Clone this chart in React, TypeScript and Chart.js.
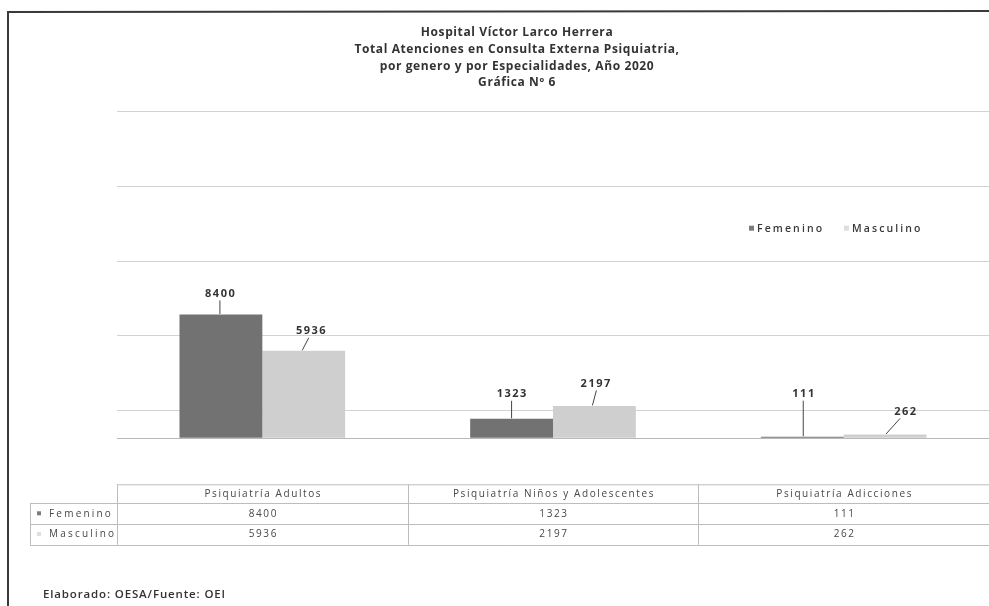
import React, { useEffect, useRef } from "react";
import { Chart, registerables } from "chart.js";

Chart.register(...registerables);

// ---------- data ----------
const categories = [
  "Psiquiatría Adultos",
  "Psiquiatría Niños y Adolescentes",
  "Psiquiatría Adicciones",
];
const seriesNames = ["Femenino", "Masculino"];
const femenino = [8400, 1323, 111];
const masculino = [5936, 2197, 262];
const gridValues = [0, 1900, 6980, 12000, 17100, 22150];
const axisMax = 22150;
const titleLines = [
  "Hospital Víctor Larco Herrera",
  "Total Atenciones en Consulta Externa Psiquiatria,",
  "por genero y por Especialidades, Año 2020",
  "Gráfica Nº 6",
];
const footerText = "Elaborado: OESA/Fuente: OEI";

// ---------- styles ----------
const BAR_COLORS = ["#727272", "#cfcfcf"];
const KEY_COLORS = ["#7c7c7c", "#dedede"];
const TEXT = "#333333";
const FONT = "'Open Sans', 'Noto Sans', sans-serif";
// label offset relative to bar top-centre: [dx, dy, leaderStartDx, leaderEndDx]
const LABEL_LAYOUT = [
  [[-1, -21, 0, -1], [0, -25, 0, 0], [1, -43, 0, 1]],
  [[7, -20, -2, -1.5], [1, -22.5, 1, -2], [20, -23, -5, 1]],
];

const W = 989;
const H = 606;

function setFont(ctx: CanvasRenderingContext2D, font: string, spacing: number) {
  ctx.font = font;
  try {
    (ctx as any).letterSpacing = spacing + "px";
  } catch (e) {}
}

const decorPlugin = {
  id: "decor",
  beforeDraw(chart: any) {
    const ctx = chart.ctx;
    ctx.save();
    ctx.fillStyle = "#ffffff";
    ctx.fillRect(0, 0, chart.width, chart.height);
    ctx.restore();
  },
  afterDatasetsDraw(chart: any) {
    const ctx = chart.ctx as CanvasRenderingContext2D;
    ctx.save();
    chart.data.datasets.forEach((ds: any, di: number) => {
      const meta = chart.getDatasetMeta(di);
      meta.data.forEach((el: any, i: number) => {
        const [dx, dy, sx, ex] = LABEL_LAYOUT[di][i];
        const lx = el.x + dx;
        const ly = el.y + dy;
        ctx.strokeStyle = "#444";
        ctx.lineWidth = 1;
        ctx.beginPath();
        ctx.moveTo(lx + sx, ly + 7);
        ctx.lineTo(el.x + ex, el.y - 0.5);
        ctx.stroke();
        setFont(ctx, `bold 11px ${FONT}`, 1.5);
        ctx.fillStyle = TEXT;
        ctx.textAlign = "center";
        ctx.textBaseline = "middle";
        ctx.fillText(String(ds.data[i]), lx + 0.75, ly);
      });
    });
    ctx.restore();
  },
  afterDraw(chart: any) {
    const ctx = chart.ctx as CanvasRenderingContext2D;
    const area = chart.chartArea;
    const x = chart.scales.x;
    ctx.save();

    // frame
    ctx.strokeStyle = "#3a3a3a";
    ctx.lineWidth = 2;
    ctx.beginPath();
    ctx.moveTo(8, H);
    ctx.lineTo(8, 12);
    ctx.lineTo(W, 11);
    ctx.stroke();

    // title
    ctx.fillStyle = TEXT;
    ctx.textAlign = "center";
    ctx.textBaseline = "middle";
    setFont(ctx, `bold 12px ${FONT}`, 0.6);
    titleLines.forEach((t, i) => ctx.fillText(t, 517, 33 + i * 16.6));

    // legend
    const ly = area.top + 117;
    let lx = area.right - 240;
    seriesNames.forEach((n, i) => {
      ctx.fillStyle = KEY_COLORS[i];
      ctx.fillRect(lx, ly - 3, 5, 5);
      setFont(ctx, `600 10.5px ${FONT}`, 2.1);
      ctx.fillStyle = "#3a3a3a";
      ctx.textAlign = "left";
      ctx.fillText(n, lx + 8, ly);
      lx += 95;
    });

    // data table
    const n = categories.length;
    const colW = (x.right - x.left) / n;
    const top = area.bottom + 46;
    const rowH = [19, 21, 20.5];
    const y1 = top + rowH[0];
    const y2 = y1 + rowH[1];
    const y3 = y2 + rowH[2];
    const keyLeft = 30;
    ctx.strokeStyle = "#bdbdbd";
    ctx.lineWidth = 1;
    ctx.beginPath();
    ctx.moveTo(x.left, top + 0.5);
    ctx.lineTo(x.right, top + 0.5);
    [y1, y2, y3].forEach((yy) => {
      ctx.moveTo(keyLeft, Math.round(yy) + 0.5);
      ctx.lineTo(x.right, Math.round(yy) + 0.5);
    });
    ctx.moveTo(keyLeft + 0.5, y1);
    ctx.lineTo(keyLeft + 0.5, y3);
    for (let c = 0; c < n; c++) {
      const cx = Math.round(x.left + c * colW) + 0.5;
      ctx.moveTo(cx, top);
      ctx.lineTo(cx, y3);
    }
    ctx.stroke();

    ctx.fillStyle = "#474747";
    ctx.textBaseline = "middle";
    ctx.textAlign = "center";
    categories.forEach((c, i) => {
      const cx = x.getPixelForValue(i);
      setFont(ctx, `10px ${FONT}`, 1.6);
      ctx.fillText(c, cx + 1, top + rowH[0] / 2);
      setFont(ctx, `10px ${FONT}`, 1.6);
      ctx.fillText(String(femenino[i]), cx + 1, y1 + rowH[1] / 2);
      ctx.fillText(String(masculino[i]), cx + 1, y2 + rowH[2] / 2);
    });
    const rowYs = [y1 + rowH[1] / 2, y2 + rowH[2] / 2];
    seriesNames.forEach((s, i) => {
      ctx.fillStyle = KEY_COLORS[i];
      ctx.fillRect(keyLeft + 7, rowYs[i] - 2.5, 4, 4);
      ctx.fillStyle = "#474747";
      ctx.textAlign = "left";
      setFont(ctx, `10px ${FONT}`, 2.2);
      ctx.fillText(s, keyLeft + 19, rowYs[i]);
    });

    // footer
    ctx.fillStyle = TEXT;
    ctx.textAlign = "left";
    setFont(ctx, `600 11.5px ${FONT}`, 0.85);
    ctx.fillText(footerText, 43, 595);

    ctx.restore();
  },
};

export default function App() {
  const ref = useRef<HTMLCanvasElement | null>(null);
  useEffect(() => {
    if (!ref.current) return;
    const chart = new Chart(ref.current, {
      type: "bar",
      data: {
        labels: categories,
        datasets: [
          {
            label: seriesNames[0],
            data: femenino,
            backgroundColor: BAR_COLORS[0],
            categoryPercentage: 0.57,
            barPercentage: 1,
          },
          {
            label: seriesNames[1],
            data: masculino,
            backgroundColor: BAR_COLORS[1],
            categoryPercentage: 0.57,
            barPercentage: 1,
          },
        ],
      },
      options: {
        responsive: false,
        animation: false,
        layout: { padding: { left: 117, right: 0, top: 111.7, bottom: H - 438.3 } },
        plugins: {
          legend: { display: false },
          title: { display: false },
          tooltip: { enabled: false },
        },
        scales: {
          x: { display: false },
          y: {
            min: 0,
            max: axisMax,
            afterBuildTicks: (s: any) => {
              s.ticks = gridValues.map((v) => ({ value: v }));
            },
            afterFit: (s: any) => {
              s.width = 0;
            },
            ticks: { display: false },
            border: { display: false },
            grid: {
              drawTicks: false,
              color: (c: any) => (c.tick && c.tick.value === 0 ? "#b8b8b8" : "#d2d2d2"),
              lineWidth: 1,
            },
          },
        },
      },
      plugins: [decorPlugin],
    });
    return () => chart.destroy();
  }, []);
  return (
    <div style={{ position: "absolute", left: 0, top: 0, width: W, height: H }}>
      <canvas ref={ref} width={W} height={H} style={{ display: "block" }} />
    </div>
  );
}
